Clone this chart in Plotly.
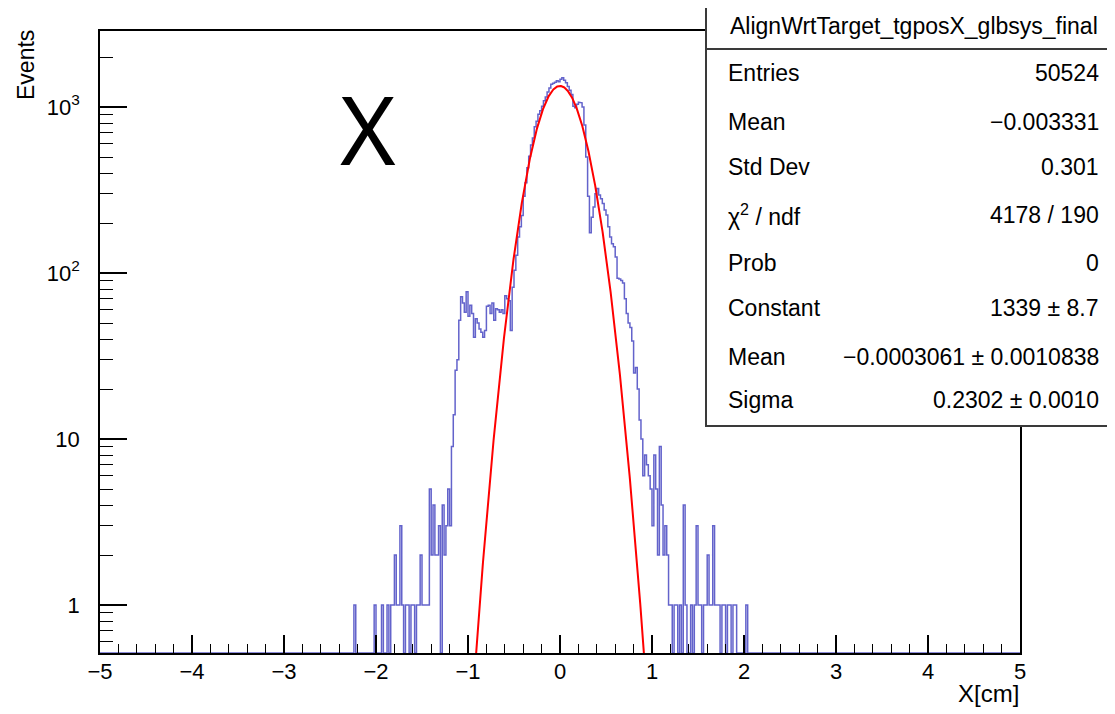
import numpy as np
import plotly.graph_objects as go

# ---------------- data ----------------
BIN_WIDTH = 0.02
X_MIN, X_MAX = -5.0, 5.0
FIRST_LISTED_BIN = -2.26   # lower edge of first listed bin

# counts, bins of 0.02 starting at -2.26
left_tail_counts = [0, 1, 0, 0, 0, 0, 0, 0, 0, 0, 0, 0, 1, 0, 0, 0, 1, 0, 0, 1,
                    0, 1, 1, 2, 1, 1, 3, 1, 0, 1, 1, 0, 1, 1, 0, 1, 1, 2, 1, 1,
                    1, 1, 5, 2, 4, 2, 2, 3, 0, 4, 2, 3, 5, 3, 9, 14, 26, 30, 52, 72]
# bins starting at -1.06
core_counts = [66, 58, 77, 55, 64, 57, 41, 53, 50, 46, 44, 41, 45, 63, 64, 57, 66, 52,
               61, 60, 58, 60, 57, 73, 70, 68, 45, 82, 104, 128, 165, 190, 222, 290,
               350, 430, 505, 590, 650, 760, 820, 905, 950, 1010, 1090, 1150, 1230,
               1300, 1370, 1390, 1410, 1440, 1420, 1470, 1500, 1450, 1400, 1330, 1260,
               1190, 1010, 990, 1040, 1070, 1060, 1000, 780, 500, 290, 175, 217, 250,
               300, 323, 295, 280, 262, 240, 224, 190, 165, 150, 144, 125, 93, 92, 90,
               87, 70, 57, 50, 47, 39, 25, 27, 20, 13, 10, 6, 8, 7, 6, 5, 3, 8, 5, 2,
               9, 4, 2, 3]
# bins starting at 1.16
right_tail_counts = [2, 1, 1, 0, 1, 1, 0, 1, 0, 4, 1, 0, 0, 1, 0, 1, 3, 1, 1, 0,
                     1, 1, 2, 1, 1, 3, 1, 1, 1, 0, 1, 1, 0, 1, 1, 0, 1, 1, 0, 0,
                     0, 0, 0, 1]

# Gaussian fit parameters (from stats box)
fit_constant = 1339.0
fit_mean = -0.0003061
fit_sigma = 0.2302

stats_title = "AlignWrtTarget_tgposX_glbsys_final"
stats_labels = ["Entries", "Mean", "Std Dev", "χ<sup>2</sup> / ndf", "Prob",
                "Constant", "Mean", "Sigma"]
stats_values = ["50524", "−0.003331", "0.301", "4178 / 190", "0",
                "1339 ± 8.7", "−0.0003061 ± 0.0010838", "0.2302 ± 0.0010"]

x_ticks = [-5, -4, -3, -2, -1, 0, 1, 2, 3, 4, 5]
y_ticks = [1, 10, 100, 1000]
y_ticktext = ["1", "10", "10<sup>2</sup>", "10<sup>3</sup>"]
y_minor = [0.6, 0.7, 0.8, 0.9, 2, 3, 4, 5, 6, 7, 8, 9, 20, 30, 40, 50, 60, 70, 80, 90,
           200, 300, 400, 500, 600, 700, 800, 900, 2000]

# ---------------- layout geometry (reference pixel coords) ----------------
VIEW_W, VIEW_H = 1115, 714
BODY = 8                      # page body margin
W, H = VIEW_W - BODY, VIEW_H - BODY
PL, PR, PT, PB = 100, 1020, 31, 653
Y_LOG_RANGE = [-0.289, 3.458]
FONT = "Liberation Sans, Arial, Helvetica, sans-serif"


def px(x):
    return (x - PL) / (PR - PL)


def py(y):
    return (PB - y) / (PB - PT)


# ---------------- histogram as step outline ----------------
nbins = int(round((X_MAX - X_MIN) / BIN_WIDTH))
full = np.zeros(nbins)
listed = left_tail_counts + core_counts + right_tail_counts
start = int(round((FIRST_LISTED_BIN - X_MIN) / BIN_WIDTH))
full[start:start + len(listed)] = listed
edges = X_MIN + BIN_WIDTH * np.arange(nbins + 1)
floor_val = 10 ** Y_LOG_RANGE[0]
yvals = np.where(full > 0, full, floor_val)
hx = np.repeat(edges, 2)[1:-1]
hy = np.repeat(yvals, 2)

fig = go.Figure()
fig.add_trace(go.Scatter(x=hx, y=hy, mode="lines",
                         line=dict(color="rgba(60,60,190,0.8)", width=1.5),
                         hoverinfo="skip"))

# fit curve
xf = np.linspace(X_MIN, X_MAX, 4001)
yf = fit_constant * np.exp(-0.5 * ((xf - fit_mean) / fit_sigma) ** 2)
m = yf > 0.2
fig.add_trace(go.Scatter(x=xf[m], y=yf[m], mode="lines",
                         line=dict(color="#ff0000", width=2), hoverinfo="skip"))

fig.update_layout(
    width=W, height=H, autosize=False,
    margin=dict(l=PL - BODY, r=VIEW_W - PR, t=PT - BODY, b=VIEW_H - PB, pad=0),
    plot_bgcolor="white", paper_bgcolor="white", showlegend=False,
    font=dict(family=FONT, color="black"),
)
fig.update_xaxes(range=[X_MIN, X_MAX], tickvals=x_ticks, ticks="inside", ticklen=18,
                 tickwidth=1.5, tickcolor="black", showline=True, linecolor="black",
                 linewidth=1.5, mirror=True, showgrid=False, zeroline=False,
                 ticklabelstandoff=-2,
                 tickfont=dict(size=22, family=FONT, color="black"),
                 minor=dict(dtick=0.2, tick0=0, ticks="inside", ticklen=9,
                            tickwidth=1.2, tickcolor="black", showgrid=False))
fig.update_yaxes(type="log", range=Y_LOG_RANGE, tickvals=y_ticks, ticktext=y_ticktext,
                 ticks="inside", ticklen=27, tickwidth=1.5, tickcolor="black",
                 showline=True, linecolor="black", linewidth=1.5, mirror=True,
                 showgrid=False, zeroline=False, ticklabelstandoff=14,
                 tickfont=dict(size=22, family=FONT, color="black"),
                 minor=dict(tickvals=y_minor, ticks="inside", ticklen=13,
                            tickwidth=1.2, tickcolor="black", showgrid=False))

annotations = []
shapes = []
# axis titles
annotations.append(dict(text="Events", x=px(26), y=py(65), xref="paper", yref="paper",
                        textangle=-90, showarrow=False, xanchor="center", yanchor="middle",
                        font=dict(size=23, family=FONT, color="black")))
annotations.append(dict(text="X[cm]", x=px(1021), y=py(694), xref="paper", yref="paper",
                        showarrow=False, xanchor="right", yanchor="middle",
                        font=dict(size=24, family=FONT, color="black")))
# big X label
annotations.append(dict(text="X", x=px(368), y=py(128), xref="paper", yref="paper",
                        showarrow=False, xanchor="center", yanchor="middle",
                        font=dict(size=95, family="Noto Sans", color="black")))

# stats box
BOX_L, BOX_R, BOX_T, BOX_B = 706, 1130, 3, 426
shapes.append(dict(type="rect", xref="paper", yref="paper", x0=px(BOX_L), x1=px(BOX_R),
                   y0=py(BOX_B), y1=py(BOX_T), fillcolor="white",
                   line=dict(color="#3a3a3a", width=2), layer="above"))
shapes.append(dict(type="line", xref="paper", yref="paper", x0=px(BOX_L), x1=px(BOX_R),
                   y0=py(49), y1=py(49), line=dict(color="#3a3a3a", width=2), layer="above"))
annotations.append(dict(text=stats_title, x=px(914), y=py(26), xref="paper", yref="paper",
                        showarrow=False, xanchor="center", yanchor="middle",
                        font=dict(size=23, family=FONT, color="black")))
row_y = [73, 122, 167, 215, 263, 308, 357, 400]
for lab, val, yy in zip(stats_labels, stats_values, row_y):
    annotations.append(dict(text=lab, x=px(726), y=py(yy), xref="paper", yref="paper",
                            showarrow=False, xanchor="left", yanchor="middle",
                            font=dict(size=23, family=FONT, color="black")))
    annotations.append(dict(text=val, x=px(1101), y=py(yy), xref="paper", yref="paper",
                            showarrow=False, xanchor="right", yanchor="middle",
                            font=dict(size=23, family=FONT, color="black")))

fig.update_layout(annotations=annotations, shapes=shapes)
fig.write_html("out.html")
